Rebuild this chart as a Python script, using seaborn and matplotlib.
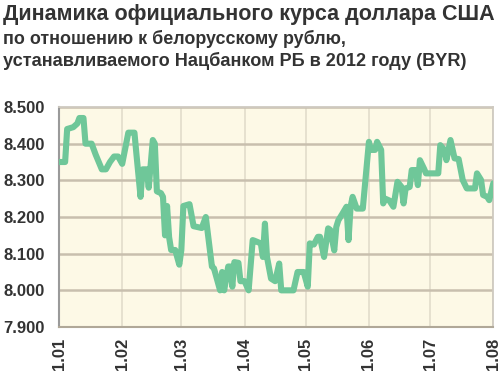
import matplotlib
matplotlib.use("Agg")
import matplotlib.pyplot as plt
import seaborn as sns
import pandas as pd

dates = [
    "2012-01-01", "2012-01-04", "2012-01-05", "2012-01-08", "2012-01-10", "2012-01-11",
    "2012-01-13", "2012-01-14", "2012-01-17", "2012-01-19", "2012-01-22", "2012-01-24",
    "2012-01-26", "2012-01-28", "2012-01-30", "2012-02-01", "2012-02-04", "2012-02-07",
    "2012-02-08", "2012-02-10", "2012-02-11", "2012-02-13", "2012-02-14", "2012-02-16",
    "2012-02-17", "2012-02-18", "2012-02-20", "2012-02-21", "2012-02-22", "2012-02-23",
    "2012-02-24", "2012-02-25", "2012-02-27", "2012-02-29", "2012-03-01", "2012-03-02",
    "2012-03-05", "2012-03-07", "2012-03-11", "2012-03-13", "2012-03-14", "2012-03-16",
    "2012-03-17", "2012-03-20", "2012-03-21", "2012-03-22", "2012-03-24", "2012-03-25",
    "2012-03-26", "2012-03-27", "2012-03-29", "2012-03-30", "2012-04-01", "2012-04-03",
    "2012-04-05", "2012-04-06", "2012-04-09", "2012-04-10", "2012-04-11", "2012-04-12",
    "2012-04-14", "2012-04-16", "2012-04-18", "2012-04-19", "2012-04-25", "2012-04-27",
    "2012-04-30", "2012-05-02", "2012-05-03", "2012-05-05", "2012-05-07", "2012-05-08",
    "2012-05-10", "2012-05-12", "2012-05-13", "2012-05-15", "2012-05-16", "2012-05-17",
    "2012-05-19", "2012-05-21", "2012-05-22", "2012-05-23", "2012-05-24", "2012-05-26",
    "2012-05-29", "2012-06-01", "2012-06-02", "2012-06-04", "2012-06-05", "2012-06-07",
    "2012-06-08", "2012-06-09", "2012-06-11", "2012-06-13", "2012-06-15", "2012-06-17",
    "2012-06-18", "2012-06-19", "2012-06-21", "2012-06-22", "2012-06-24", "2012-06-25",
    "2012-06-26", "2012-06-28", "2012-06-29", "2012-07-05", "2012-07-06", "2012-07-08",
    "2012-07-09", "2012-07-11", "2012-07-13", "2012-07-15", "2012-07-17", "2012-07-19",
    "2012-07-23", "2012-07-24", "2012-07-26", "2012-07-27", "2012-07-29", "2012-07-30",
    "2012-08-01",
]
rates = [
    8.350, 8.350, 8.440, 8.445, 8.455, 8.470,
    8.470, 8.400, 8.400, 8.370, 8.330, 8.330,
    8.350, 8.365, 8.365, 8.345, 8.430, 8.430,
    8.370, 8.255, 8.330, 8.330, 8.280, 8.410,
    8.400, 8.270, 8.265, 8.255, 8.150, 8.230,
    8.145, 8.110, 8.110, 8.070, 8.110, 8.230,
    8.235, 8.175, 8.170, 8.200, 8.155, 8.065,
    8.060, 8.000, 8.050, 8.000, 8.065, 8.065,
    8.010, 8.077, 8.075, 8.025, 8.025, 8.000,
    8.137, 8.135, 8.128, 8.091, 8.182, 8.091,
    8.032, 8.025, 8.073, 8.000, 8.000, 8.050,
    8.050, 8.010, 8.128, 8.125, 8.146, 8.146,
    8.091, 8.169, 8.165, 8.109, 8.173, 8.191,
    8.209, 8.228, 8.137, 8.228, 8.255, 8.223,
    8.223, 8.405, 8.383, 8.383, 8.405, 8.383,
    8.237, 8.250, 8.245, 8.228, 8.296, 8.282,
    8.237, 8.278, 8.282, 8.328, 8.328, 8.287,
    8.355, 8.332, 8.319, 8.319, 8.396, 8.383,
    8.355, 8.410, 8.360, 8.358, 8.301, 8.278,
    8.278, 8.319, 8.301, 8.260, 8.255, 8.246,
    8.292,
]
month_ticks = ["2012-01-01", "2012-02-01", "2012-03-01", "2012-04-01",
               "2012-05-01", "2012-06-01", "2012-07-01", "2012-08-01"]
month_labels = ["1.01", "1.02", "1.03", "1.04", "1.05", "1.06", "1.07", "1.08"]
y_ticks = [7.9, 8.0, 8.1, 8.2, 8.3, 8.4, 8.5]
y_labels = ["7.900", "8.000", "8.100", "8.200", "8.300", "8.400", "8.500"]

title = "Динамика официального курса доллара США"
subtitle1 = "по отношению к белорусскому рублю,"
subtitle2 = "устанавливаемого Нацбанком РБ в 2012 году (BYR)"

sns.set_theme(style="white")
plt.rcParams['font.family'] = ['Liberation Sans', 'DejaVu Sans']

df = pd.DataFrame({"date": pd.to_datetime(dates), "rate": rates})

fig = plt.figure(figsize=(5.0, 3.76), dpi=100)
fig.patch.set_facecolor("white")
ax = fig.add_axes([0.118, 0.1303, 0.8686, 0.5851])
ax.set_facecolor("#fdf9e6")

tick_dates = pd.to_datetime(month_ticks)
for d in tick_dates:
    ax.axvline(d, color="#e4dfcd", lw=1.3, zorder=1)
for v in y_ticks:
    ax.axhline(v, color="#c8bfae", lw=1.8, zorder=1)

sns.lineplot(data=df, x="date", y="rate", ax=ax, color="#6fc799", lw=4.4,
             zorder=3, solid_joinstyle="round", solid_capstyle="round")

ax.set_xlim(tick_dates[0], tick_dates[-1])
ax.set_ylim(7.9, 8.5)
ax.set_xticks(tick_dates)
ax.set_xticklabels(month_labels, rotation=90, fontsize=12, fontweight="bold", color="#333333")
ax.set_yticks(y_ticks)
ax.set_yticklabels(y_labels, fontsize=12, fontweight="bold", color="#333333")
ax.tick_params(axis="y", length=0, pad=10)
ax.tick_params(axis="x", length=0, pad=8)
ax.set_xlabel("")
ax.set_ylabel("")

for side in ["top", "right"]:
    ax.spines[side].set_color("#cfcac0")
    ax.spines[side].set_linewidth(1.3)
ax.spines["left"].set_color("#9a9a9a")
ax.spines["left"].set_linewidth(1.5)
ax.spines["bottom"].set_color("#b0a898")
ax.spines["bottom"].set_linewidth(1.5)

fig.text(0.006, 0.99, title, fontsize=15.5, fontweight="bold", color="#333333",
         ha="left", va="top")
fig.text(0.006, 0.92, subtitle1, fontsize=12.9, fontweight="bold", color="#333333",
         ha="left", va="top")
fig.text(0.006, 0.862, subtitle2, fontsize=13.1, fontweight="bold", color="#333333",
         ha="left", va="top")

fig.savefig("out.png", dpi=100, facecolor="white")
